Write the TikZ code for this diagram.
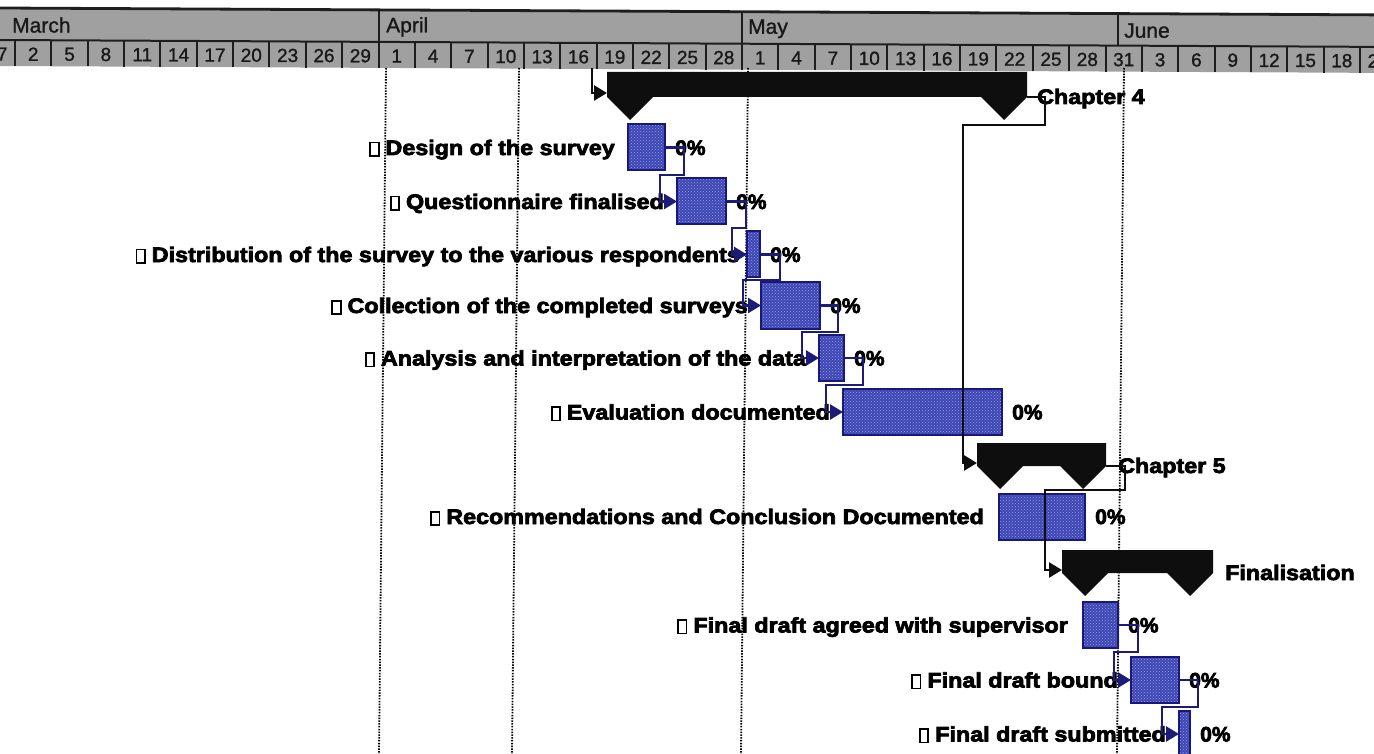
\documentclass[tikz,border=0pt]{standalone}
\usepackage{fontspec}
\setmainfont{Liberation Sans}
\newfontfamily\labelfont{Liberation Sans}[FakeStretch=1.11,FakeBold=3.5]
\newfontfamily\pctfont{Liberation Sans}[FakeBold=3.5]
\newfontfamily\headfont{Liberation Sans}[FakeBold=1.2]
\usetikzlibrary{arrows.meta,patterns}

\definecolor{headgray}{RGB}{160,160,160}
\definecolor{headrule}{RGB}{30,30,30}
\definecolor{barblue}{RGB}{62,70,180}
\definecolor{bardots}{RGB}{150,160,228}
\definecolor{barline}{RGB}{24,24,120}
\definecolor{linkblue}{RGB}{28,28,118}
\definecolor{sumblack}{RGB}{14,14,14}

% empty tick box in front of each task name
\newcommand\chkbox{{\setlength{\fboxrule}{1.8pt}\setlength{\fboxsep}{0pt}\fbox{\rule{0pt}{11.5pt}\hspace{6.5pt}}}}

\begin{document}
\begin{tikzpicture}[x=1pt,y=-1pt,
  headline/.style={draw=headrule,line width=2pt},
  daylabel/.style={font=\headfont\fontsize{19}{22}\selectfont,text=black!90,inner sep=0pt},
  monthlabel/.style={font=\headfont\fontsize{21}{24}\selectfont,text=black!90,inner sep=0pt,anchor=west},
  pageline/.style={draw=black,line width=1.8pt,dash pattern=on 1.5pt off 1.3pt},
  taskbar/.style={draw=barline,line width=2pt,preaction={fill=barblue},
    pattern=crosshatch dots,pattern color=bardots,minimum height=46pt,
    inner sep=0pt,outer sep=0pt},
  sumbody/.style={inner sep=0pt,outer sep=0pt},
  sumshape/.style={fill=sumblack},
  tasklabel/.style={anchor=base east,inner sep=0pt,text=black,
    font=\labelfont\bfseries\fontsize{21}{25}\selectfont},
  sumlabel/.style={anchor=base west,inner sep=0pt,text=black,
    font=\labelfont\bfseries\fontsize{21}{25}\selectfont},
  pct/.style={anchor=base west,inner sep=0pt,text=black,
    font=\pctfont\bfseries\fontsize{21}{25}\selectfont},
  tasklink/.style={draw=linkblue,line width=2.6pt,-{Triangle[length=13pt,width=15pt]}},
  sumlink/.style={draw=sumblack,line width=2.6pt,-{Triangle[length=13pt,width=15pt]}}]

\useasboundingbox (0,0) rectangle (1374,754);
\clip (0,0) rectangle (1374,754);
\fill[white] (0,0) rectangle (1374,754);

% ---- timescale: months above, three-day cells below
\begin{scope}[yslant=-0.005]
  \fill[headgray] (0,8) rectangle (1374,66);
  \draw[headline,line width=2.8pt] (0,8) -- (1374,8);
  \draw[headline] (0,40) -- (1374,40);
  \foreach \m in {378.5,742,1117.6}
    \draw[headline] (\m,8) -- (\m,40);
  \foreach \k in {0,...,37}
    \draw[headline] ({15+36.35*\k},40) -- ({15+36.35*\k},66);
  \foreach \d [count=\i from -1] in {27,2,5,8,11,14,17,20,23,26,29,
      1,4,7,10,13,16,19,22,25,28,
      1,4,7,10,13,16,19,22,25,28,31,
      3,6,9,12,15,18,21}
    \node[daylabel] at ({15+36.35*\i+18.2},54) {\d};
  \node[monthlabel] (mar) at (12,25) {March};
  \node[monthlabel] (apr) at (386,25) {April};
  \node[monthlabel] (may) at (748,25) {May};
  \node[monthlabel] (jun) at (1124,25) {June};
\end{scope}

% ---- dotted page-break lines
\foreach \xt in {386,519,748,1124}
  \draw[pageline] (\xt,68) -- (\xt-7,754);

% ---- task bars
\node[taskbar,minimum width=37pt]  (t1)  at (646.5,147.5) {};
\node[taskbar,minimum width=49pt]  (t2)  at (701.5,201.5) {};
\node[taskbar,minimum width=13pt]  (t3)  at (753.5,254.5) {};
\node[taskbar,minimum width=59pt]  (t4)  at (790.5,305.5) {};
\node[taskbar,minimum width=25pt]  (t5)  at (831.5,358) {};
\node[taskbar,minimum width=159pt] (t6)  at (922.5,412) {};
\node[taskbar,minimum width=86pt]  (t7)  at (1042,516.5) {};
\node[taskbar,minimum width=35pt]  (t8)  at (1100.5,625) {};
\node[taskbar,minimum width=48pt]  (t9)  at (1155,680) {};
\node[taskbar,minimum width=11pt]  (t10) at (1184.5,734) {};

% ---- summary bars
\node[sumbody,minimum width=420pt,minimum height=25pt] (ch4) at (817,84.5) {};
\node[sumbody,minimum width=129pt,minimum height=23pt] (ch5) at (1041.5,454.5) {};
\node[sumbody,minimum width=151pt,minimum height=23pt] (fin) at (1137.5,561.5) {};
\foreach \s in {ch4,ch5,fin}
  \fill[sumshape] (\s.north west) -- (\s.north east) -- (\s.south east)
    -- ++(-23,23) -- ++(-23,-23) -- ([xshift=46pt]\s.south west)
    -- ++(-23,23) -- ++(-23,-23) -- cycle;

% ---- task names
\node[tasklabel] (l1)  at ([xshift=-13pt,yshift=-7.5pt]t1.west)  {\chkbox\hspace{6pt}Design of the survey};
\node[tasklabel] (l2)  at ([xshift=-13pt,yshift=-7.5pt]t2.west)  {\chkbox\hspace{6pt}Questionnaire finalised};
\node[tasklabel] (l3)  at ([xshift=-7pt,yshift=-7.5pt]t3.west)   {\chkbox\hspace{6pt}Distribution of the survey to the various respondents};
\node[tasklabel] (l4)  at ([xshift=-13pt,yshift=-7.5pt]t4.west)  {\chkbox\hspace{6pt}Collection of the completed surveys};
\node[tasklabel] (l5)  at ([xshift=-13pt,yshift=-7.5pt]t5.west)  {\chkbox\hspace{6pt}Analysis and interpretation of the data};
\node[tasklabel] (l6)  at ([xshift=-13pt,yshift=-7.5pt]t6.west)  {\chkbox\hspace{6pt}Evaluation documented};
\node[tasklabel] (l7)  at ([xshift=-15pt,yshift=-7.5pt]t7.west)  {\chkbox\hspace{6pt}Recommendations and Conclusion Documented};
\node[tasklabel] (l8)  at ([xshift=-15pt,yshift=-7.5pt]t8.west)  {\chkbox\hspace{6pt}Final draft agreed with supervisor};
\node[tasklabel] (l9)  at ([xshift=-13pt,yshift=-7.5pt]t9.west)  {\chkbox\hspace{6pt}Final draft bound};
\node[tasklabel] (l10) at ([xshift=-13pt,yshift=-7.5pt]t10.west) {\chkbox\hspace{6pt}Final draft submitted};

% ---- completion figures
\foreach \t in {t1,t2,t3,t4,t5,t6,t7,t8,t9,t10}
  \node[pct] (p\t) at ([xshift=10pt,yshift=-7.5pt]\t.east) {0\%};

% ---- summary names
\node[sumlabel] (n4)  at ([xshift=10pt,yshift=-7pt]ch4.south east) {Chapter 4};
\node[sumlabel] (n5)  at ([xshift=12pt,yshift=-7pt]ch5.south east) {Chapter 5};
\node[sumlabel] (nfin) at ([xshift=12pt,yshift=-7pt]fin.south east) {Finalisation};

% ---- links between tasks
\draw[tasklink] (t1.east) -- ++(19,0) -- ++(0,27.5) -| ([xshift=-17pt]t2.west) -- (t2.west);
\draw[tasklink] (t2.east) -- ++(20,0) -- ++(0,26.5) -| ([xshift=-15pt]t3.west) -- (t3.west);
\draw[tasklink] (t3.east) -- ++(20,0) -- ++(0,25.5) -| ([xshift=-18pt]t4.west) -- (t4.west);
\draw[tasklink] (t4.east) -- ++(18,0) -- ++(0,26.5) -| ([xshift=-17pt]t5.west) -- (t5.west);
\draw[tasklink] (t5.east) -- ++(19,0) -- ++(0,27) -| ([xshift=-17pt]t6.west) -- (t6.west);
\draw[tasklink] (t8.east) -- ++(20,0) -- ++(0,27) -| ([xshift=-17pt]t9.west) -- (t9.west);
\draw[tasklink] (t9.east) -- ++(19,0) -- ++(0,27) -| ([xshift=-17pt]t10.west) -- (t10.west);

% ---- links between summary bars
\coordinate (ch4in) at (592,68);
\draw[sumlink] (ch4in) |- ([yshift=4pt]ch4.south west);
\draw[sumlink] (ch4.south east) -- ++(18,0) -- ++(0,28)
  -| ([xshift=-14pt,yshift=3pt]ch5.south west) -- ([yshift=3pt]ch5.south west);
\draw[sumlink] (ch5.south east) -- ++(19,0) -- ++(0,24)
  -| ([xshift=-17pt,yshift=3pt]fin.south west) -- ([yshift=3pt]fin.south west);

\end{tikzpicture}
\end{document}
